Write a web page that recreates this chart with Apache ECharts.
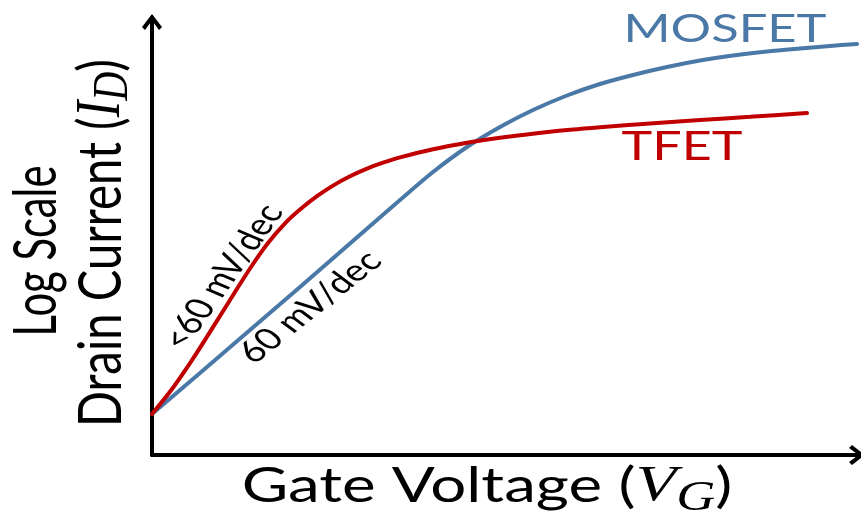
<!DOCTYPE html>
<html>
<head>
<meta charset="utf-8">
<script src="https://cdn.jsdelivr.net/npm/echarts@6/dist/echarts.min.js"></script>
<style>
html,body{margin:0;padding:0;background:#ffffff;}
#chart{width:861px;height:511px;}
</style>
</head>
<body>
<div id="chart"></div>
<script>
// ---- data (arbitrary units: gate voltage vs log drain current) ----
const mosfetVg = [0, 48, 98, 148, 198, 248, 281, 315, 348, 381, 415, 448, 481, 515, 548, 581, 615, 648, 678, 705];
const mosfetId = [41, 82, 125, 168, 211.5, 255, 283, 308, 328, 345, 359.5, 371, 380, 388, 394.5, 399.5, 403.5, 406.5, 409, 411];
const tfetVg = [0, 21, 41, 64, 83, 100, 116, 133, 148, 165, 181, 198, 215, 231, 248, 281, 315, 348, 398, 448, 498, 548, 598, 655];
const tfetId = [41, 67.3, 96.3, 132.6, 163, 189.5, 212, 231.7, 245.5, 258.8, 269.4, 278.7, 286.4, 292.3, 297.6, 305.8, 312.3, 317.2, 323.2, 327.7, 331.5, 335, 338.2, 341.9];
const seriesNames = ['MOSFET', 'TFET'];
const slopeLabels = ['<60 mV/dec', '60 mV/dec'];
const xTitle = ['Gate Voltage (', 'V', 'G', ')'];
const yTitle1 = 'Log Scale';
const yTitle2 = ['Drain Current (', 'I', 'D', ')'];

const BLUE = '#4a79a7';
const RED = '#c00000';
const S = 1.3; // horizontal stretch of the original picture
const ARROW = 'path://M10,0 L20,13 L17,16 L10,6.5 L3,16 L0,13 Z';
const SANS = 'Lato';
const SERIF = 'Liberation Serif';

const ctx = document.createElement('canvas').getContext('2d');
function textWidth(str, font) { ctx.font = font; return ctx.measureText(str).width; }

function richTitle(parts, size, drop) {
  return {
    text: '{n|' + parts[0] + '}{i|' + parts[1] + '}{s|' + parts[2] + '}{n|' + parts[3] + '}',
    rich: {
      n: {fontFamily: SANS, fontSize: size, lineHeight: 56, fill: '#000'},
      i: {fontFamily: SERIF, fontStyle: 'italic', fontSize: size * 1.05, lineHeight: 56, fill: '#000'},
      s: {fontFamily: SERIF, fontStyle: 'italic', fontSize: size * 0.85, lineHeight: 56, padding: [drop, 0, 0, 0], fill: '#000'}
    }
  };
}
function richWidth(parts, size) {
  return textWidth(parts[0], size + 'px ' + SANS) +
    textWidth(parts[1], 'italic ' + (size * 1.05) + 'px "' + SERIF + '"') +
    textWidth(parts[2], 'italic ' + (size * 0.85) + 'px "' + SERIF + '"') +
    textWidth(parts[3], size + 'px ' + SANS);
}

const Y_F = 46;
const yLen1 = textWidth(yTitle1, Y_F + 'px ' + SANS);
const yLen2 = richWidth(yTitle2, Y_F);

const axisCommon = {
  type: 'value',
  axisLine: {show: true, onZero: false, lineStyle: {color: '#000', width: 4}, symbol: ['none', ARROW], symbolSize: [20, 16]},
  axisTick: {show: false},
  axisLabel: {show: false},
  splitLine: {show: false}
};

const chart = echarts.init(document.getElementById('chart'), null, {renderer: 'canvas'});
chart.setOption({
  animation: false,
  backgroundColor: '#ffffff',
  grid: {left: 152, right: 4, top: 22, bottom: 56},
  xAxis: Object.assign({}, axisCommon, {min: 0, max: 705}),
  yAxis: Object.assign({}, axisCommon, {min: 0, max: 433}),
  series: [
    {
      name: seriesNames[0], type: 'line', smooth: 0.3, symbol: 'none', clip: false, silent: true,
      lineStyle: {color: BLUE, width: 4, cap: 'round'},
      data: mosfetVg.map((v, i) => [v, mosfetId[i]])
    },
    {
      name: seriesNames[1], type: 'line', smooth: 0.3, symbol: 'none', clip: false, silent: true,
      lineStyle: {color: RED, width: 4, cap: 'round'},
      data: tfetVg.map((v, i) => [v, tfetId[i]])
    }
  ],
  graphic: [
    {type: 'group', x: 725, y: 29, scaleX: S, children: [
      {type: 'text', style: {text: seriesNames[0], fontFamily: SANS, fontSize: 39, fill: BLUE, align: 'center', verticalAlign: 'middle'}}
    ]},
    {type: 'group', x: 682, y: 147, scaleX: S, children: [
      {type: 'text', style: {text: seriesNames[1], fontFamily: SANS, fontSize: 40, fill: RED, align: 'center', verticalAlign: 'middle'}}
    ]},
    {type: 'group', x: 223, y: 277, scaleX: S, children: [
      {type: 'text', rotation: 61.2 * Math.PI / 180, style: {text: slopeLabels[0], fontFamily: SANS, fontSize: 30, fill: '#000', align: 'center', verticalAlign: 'middle'}}
    ]},
    {type: 'group', x: 310, y: 307, scaleX: S, children: [
      {type: 'text', rotation: 45.8 * Math.PI / 180, style: {text: slopeLabels[1], fontFamily: SANS, fontSize: 30, fill: '#000', align: 'center', verticalAlign: 'middle'}}
    ]},
    {type: 'group', x: 487, y: 486, scaleX: S, children: [
      {type: 'text', style: Object.assign(richTitle(xTitle, 49, 26), {align: 'center', verticalAlign: 'middle'})}
    ]},
    {type: 'group', x: 37, y: 251, scaleX: S, scaleY: 171 / yLen1, children: [
      {type: 'text', rotation: Math.PI / 2, style: {text: yTitle1, fontFamily: SANS, fontSize: Y_F, fill: '#000', align: 'center', verticalAlign: 'middle'}}
    ]},
    {type: 'group', x: 102, y: 243, scaleX: S, scaleY: 368 / yLen2, children: [
      {type: 'text', rotation: Math.PI / 2, style: Object.assign(richTitle(yTitle2, Y_F, 18), {align: 'center', verticalAlign: 'middle'})}
    ]}
  ]
});
</script>
</body>
</html>
